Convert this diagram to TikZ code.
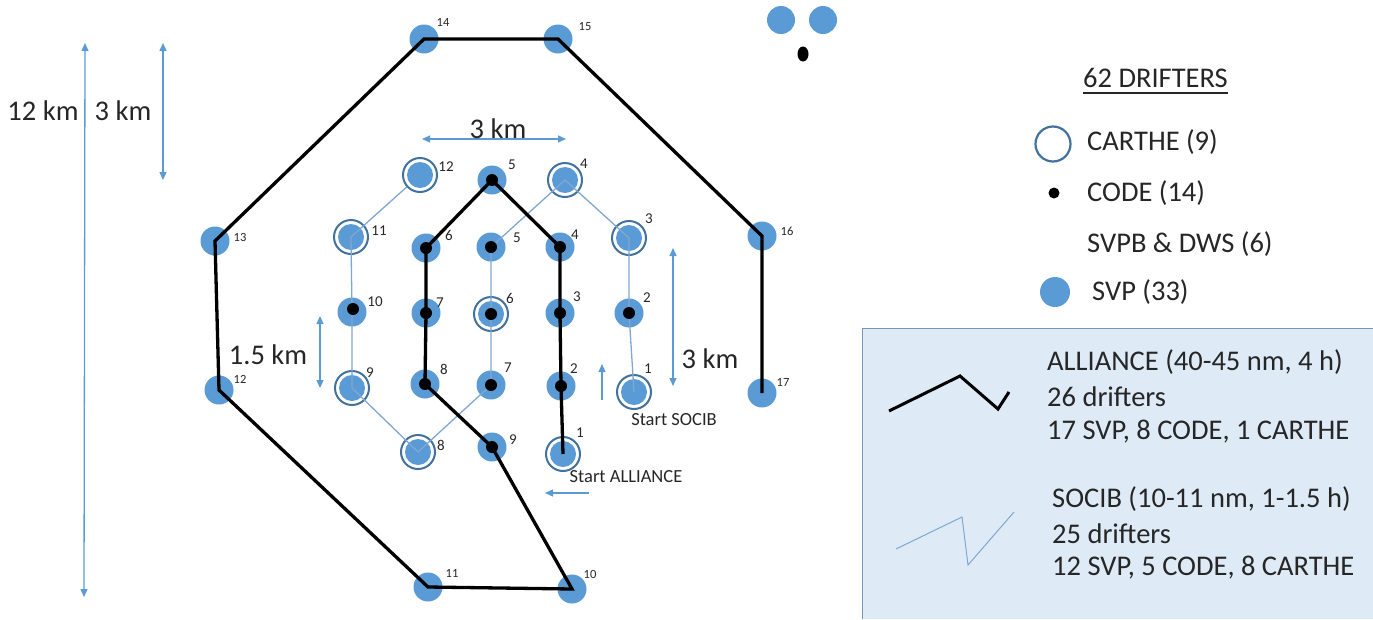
\documentclass[tikz,border=0pt]{standalone}
\usepackage{fontspec}
\setmainfont{Carlito}
\usetikzlibrary{arrows.meta,calc,shapes.geometric}
\definecolor{svpblue}{HTML}{5B9BD5}
\definecolor{ringblue}{HTML}{41719C}
\definecolor{socibline}{HTML}{7FA7D1}
\definecolor{arrowblue}{HTML}{5B9BD5}
\definecolor{boxfill}{HTML}{DEEBF7}
\definecolor{boxedge}{HTML}{7896BC}
\definecolor{txt}{HTML}{262626}
\tikzset{
  svp/.style={circle, fill=svpblue, minimum size=29pt, inner sep=0pt},
  ring/.style={circle, draw=ringblue, line width=2pt, fill=white, minimum size=34pt, inner sep=0pt},
  core/.style={circle, fill=svpblue, minimum size=26pt, inner sep=0pt},
  codedot/.style={circle, fill=black, minimum size=12pt, inner sep=0pt},
  num/.style={text=txt, font=\fontsize{15}{15}\selectfont, inner sep=0pt},
  smallnum/.style={text=txt, font=\fontsize{12.5}{12.5}\selectfont, inner sep=0pt},
  big/.style={text=txt, font=\fontsize{28.5}{28.5}\selectfont, inner sep=0pt},
  start/.style={text=txt, font=\fontsize{18.5}{18.5}\selectfont, inner sep=0pt},
  alliance/.style={black, line width=3.3pt, line join=miter},
  socib/.style={socibline, line width=1.3pt},
  dim/.style={arrowblue, line width=1.3pt, {Triangle[width=7pt,length=8pt]}-{Triangle[width=7pt,length=8pt]}},
  onearrow/.style={arrowblue, line width=1.3pt, -{Triangle[width=7pt,length=8pt]}},
}
\begin{document}
\begin{tikzpicture}[x=1pt, y=-1pt]
\useasboundingbox (0,0) rectangle (1373,619);

% legend box
\path[fill=boxfill] (862,328) rectangle (1373,619);
\draw[boxedge, line width=1pt] (862,619) -- (862,328) -- (1373,328);

% dimension arrows and labels
\coordinate (d12a) at (85,43);
\coordinate (d12b) at (84,597);
\draw[dim] (d12a) -- (d12b);
\coordinate (d3a) at (163,43);
\coordinate (d3b) at (163,180);
\draw[dim] (d3a) -- (d3b);
\node[big] (l12km) at (43,111) {12 km};
\node[big] (l3kma) at (123,111) {3 km};
\coordinate (h3a) at (422,139);
\coordinate (h3b) at (566,139);
\draw[dim] (h3a) -- (h3b);
\node[big] (l3kmb) at (498,129) {3 km};
\coordinate (v15a) at (320,316);
\coordinate (v15b) at (320,388);
\draw[dim] (v15a) -- (v15b);
\node[big] (l15km) at (268,355) {1.5 km};
\coordinate (v3a) at (673,248);
\coordinate (v3b) at (673,386);
\draw[dim] (v3a) -- (v3b);
\node[big] (l3kmc) at (710,359) {3 km};
\coordinate (upa) at (602,400);
\coordinate (upb) at (602,364);
\draw[onearrow] (upa) -- (upb);
\coordinate (lfa) at (589,493);
\coordinate (lfb) at (545,493);
\draw[onearrow] (lfa) -- (lfb);
\node[start] (stsocib) at (674,420) {Start SOCIB};
\node[start] (stall) at (626,477) {Start ALLIANCE};

% ---------- outer ALLIANCE drifters ----------
\node[svp] (a14) at (424,39) {};
\node[svp] (a15) at (558,39) {};
\node[svp] (a16) at (762,236) {};
\node[svp] (a17) at (762,393) {};
\node[svp] (a10) at (572,589) {};
\node[svp] (a11) at (428,587) {};
\node[svp] (a12) at (219,390) {};
\node[svp] (a13) at (215,241) {};

% ---------- inner ALLIANCE drifters ----------
\node[svp] (a5) at (492,180) {};
\node[svp] (a6) at (426,248) {};
\node[svp] (a4) at (560,247) {};
\node[svp] (a7) at (426,313) {};
\node[svp] (a3) at (560,313) {};
\node[svp] (a8) at (425,384) {};
\node[svp] (a2) at (561,386) {};
\node[svp] (a9) at (492,447) {};
\node[ring] (a1r) at (563,454) {};
\node[core] (a1) at (563,454) {};

% ---------- SOCIB drifters ----------
\node[ring] (s12r) at (420,175) {};
\node[core] (s12) at (420,175) {};
\node[ring] (s4r) at (565,180) {};
\node[core] (s4) at (565,180) {};
\node[ring] (s11r) at (351,237) {};
\node[core] (s11) at (351,237) {};
\node[ring] (s3r) at (629,238) {};
\node[core] (s3) at (629,238) {};
\node[svp] (s5) at (491,247) {};
\node[svp] (s10) at (352,312) {};
\node[ring] (s6r) at (491,314) {};
\node[core] (s6) at (491,314) {};
\node[svp] (s2) at (629,313) {};
\node[ring] (s9r) at (352,388) {};
\node[core] (s9) at (352,388) {};
\node[svp] (s7) at (491,385) {};
\node[ring] (s1r) at (634,392) {};
\node[core] (s1) at (634,392) {};
\node[ring] (s8r) at (418,452) {};
\node[core] (s8) at (418,452) {};

% top-right drifters
\node[svp, minimum size=28pt] (t1) at (781,20) {};
\node[svp, minimum size=28pt] (t2) at (823,20) {};
\node[ellipse, fill=black, minimum width=11pt, minimum height=15pt, inner sep=0pt] (t3) at (803,54) {};

% ---------- SOCIB path ----------
\draw[socib] (s1.center) -- (s2.center) -- (s3.center) -- (s4.center) -- (s5.center)
  -- (s6.center) -- (s7.center) -- (s8.center) -- (s9.center) -- (s10.center)
  -- (s11.center) -- (s12r);

% ---------- ALLIANCE path ----------
\draw[alliance] (a17.center) -- (a16.center) -- (a15.center) -- (a14.center)
  -- (a13.center) -- (a12.center) -- (a11.center) -- (a10.center) -- (a9.center)
  -- (a8.center) -- (a7.center) -- (a6.center) -- (a5.center) -- (a4.center)
  -- (a3.center) -- (a2.center) -- (a1.center);

% ---------- CODE dots ----------
\node[codedot] (c5) at (a5) {};
\node[codedot] (c6) at (a6) {};
\node[codedot] (c4) at (a4) {};
\node[codedot] (c7) at (a7) {};
\node[codedot] (c3) at (a3) {};
\node[codedot] (c8) at (a8) {};
\node[codedot] (c2) at (a2) {};
\node[codedot] (c9) at (a9) {};
\node[codedot] (cs5) at (s5) {};
\node[codedot] (cs10) at ($(s10)+(1,-3)$) {};
\node[codedot] (cs6) at (s6) {};
\node[codedot] (cs2) at (s2) {};
\node[codedot] (cs7) at (s7) {};

% ---------- numbers ----------
\node[smallnum] (n14) at (443,22) {14};
\node[smallnum] (n15) at (585,27) {15};
\node[smallnum] (n16) at (787,231) {16};
\node[smallnum] (n17) at (783,382) {17};
\node[smallnum] (n13) at (240,237) {13};
\node[smallnum] (n12o) at (240,379) {12};
\node[smallnum] (n11o) at (452,573) {11};
\node[smallnum] (n10o) at (590,574) {10};

\node[num] (m5) at (512,165) {5};
\node[num] (m6) at (449,235) {6};
\node[num] (m4) at (575,235) {4};
\node[num] (m7) at (440,303) {7};
\node[num] (m3) at (577,297) {3};
\node[num] (m8) at (444,369) {8};
\node[num] (m2) at (574,369) {2};
\node[num] (m9) at (513,440) {9};
\node[num] (m1) at (580,433) {1};

\node[num] (p12) at (446,167) {12};
\node[num] (p4) at (584,164) {4};
\node[num] (p11) at (379,231) {11};
\node[num] (p3) at (649,219) {3};
\node[num] (p5) at (517,238) {5};
\node[num] (p10) at (375,302) {10};
\node[num] (p6) at (510,298) {6};
\node[num] (p2) at (647,298) {2};
\node[num] (p9) at (370,373) {9};
\node[num] (p7) at (508,368) {7};
\node[num] (p1) at (648,369) {1};
\node[num] (p8) at (441,445) {8};

% ---------- legend ----------
\node[big, anchor=west] (lt) at (1083,78) {62 DRIFTERS};
\draw[txt, line width=1.3pt] ($(lt.south west)+(0,5)$) -- ($(lt.south east)+(0,5)$);
\node[circle, draw=ringblue, line width=2.2pt, minimum size=35pt, inner sep=0pt] (lgc) at (1053,144) {};
\node[big, anchor=west] (lgct) at (1087,142) {CARTHE (9)};
\node[codedot, minimum size=11pt] (lgd) at (1054,193) {};
\node[big, anchor=west] (lgdt) at (1087,193) {CODE (14)};
\node[big, anchor=west] (lgst) at (1087,244) {SVPB \& DWS (6)};
\node[svp, minimum size=30pt] (lgs) at (1055,292) {};
\node[big, anchor=west] (lgsv) at (1092,292) {SVP (33)};

% legend box contents
\coordinate (la1) at (889,411);
\coordinate (la2) at (960,376);
\coordinate (la3) at (998,409);
\coordinate (la4) at (1009,392);
\draw[black, line width=3pt] (la1) -- (la2) -- (la3) -- (la4);
\node[big, anchor=west] (at1) at (1047,362) {ALLIANCE (40-45 nm, 4 h)};
\node[big, anchor=west] (at2) at (1047,397) {26 drifters};
\node[big, anchor=west] (at3) at (1047,432) {17 SVP, 8 CODE, 1 CARTHE};
\coordinate (ls1) at (896,549);
\coordinate (ls2) at (962,517);
\coordinate (ls3) at (968,565);
\coordinate (ls4) at (1014,512);
\draw[socib, line width=1pt] (ls1) -- (ls2) -- (ls3) -- (ls4);
\node[big, anchor=west] (st1) at (1052,499) {SOCIB (10-11 nm, 1-1.5 h)};
\node[big, anchor=west] (st2) at (1052,534) {25 drifters};
\node[big, anchor=west] (st3) at (1052,568) {12 SVP, 5 CODE, 8 CARTHE};
\end{tikzpicture}
\end{document}
